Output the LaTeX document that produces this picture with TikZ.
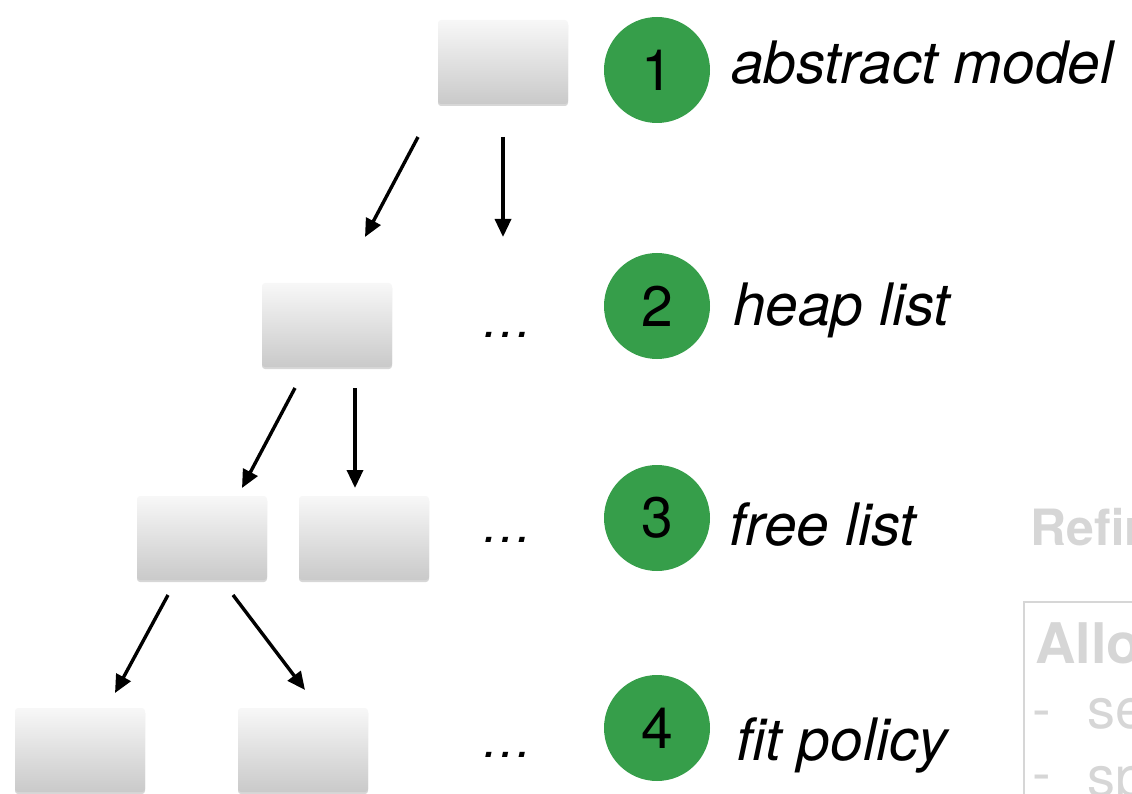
\documentclass[tikz,border=0pt]{standalone}
\usepackage{fontspec}
\setmainfont{TeX Gyre Heros}
\usetikzlibrary{arrows.meta,shadows}
\definecolor{stepgreen}{RGB}{54,158,74}
\definecolor{fadegray}{RGB}{214,214,214}
\tikzset{
  card/.style={rectangle, rounded corners=3pt, minimum width=130pt, minimum height=84pt,
    inner sep=0pt, top color=gray!6, bottom color=gray!42, draw=none,
    drop shadow={shadow xshift=0pt, shadow yshift=-2pt, opacity=.35, fill=black!45}},
  badge/.style={circle, fill=stepgreen, minimum size=106pt, inner sep=0pt,
    font=\fontsize{57}{60}\selectfont},
  tag/.style={anchor=base west, inner sep=0pt, font=\fontsize{58.5}{62}\selectfont\itshape},
  dots/.style={inner sep=0pt, font=\fontsize{50}{55}\selectfont\itshape},
  link/.style={line width=3.4pt, -{Triangle[length=18pt,width=16pt]}},
  ghost/.style={anchor=base west, inner sep=0pt, text=fadegray, font=\fontsize{#1}{#1}\selectfont},
}
\begin{document}
\begin{tikzpicture}[x=1pt,y=-1pt]
\useasboundingbox (0,0) rectangle (1132,794);
\clip (0,0) rectangle (1132,794);

% refinement tree
\node[card] (m1) at (503,62) {};
\node[card] (h1) at (327,325) {};
\node[card] (f1) at (202,538) {};
\node[card] (f2) at (364,538) {};
\node[card] (p1) at (80,750) {};
\node[card] (p2) at (303,750) {};

\coordinate (a1s) at (418,137); \coordinate (a1e) at (365,237);
\coordinate (a2s) at (503,137); \coordinate (a2e) at (503,237);
\coordinate (b1s) at (295,388); \coordinate (b1e) at (242,488);
\coordinate (b2s) at (355,388); \coordinate (b2e) at (355,488);
\coordinate (c1s) at (168,595); \coordinate (c1e) at (115,693);
\coordinate (c2s) at (233,595); \coordinate (c2e) at (305,690);
\draw[link] (a1s) -- (a1e);
\draw[link] (a2s) -- (a2e);
\draw[link] (b1s) -- (b1e);
\draw[link] (b2s) -- (b2e);
\draw[link] (c1s) -- (c1e);
\draw[link] (c2s) -- (c2e);

\node[dots] (d2) at (507,335) {\dots};
\node[dots] (d3) at (507,540) {\dots};
\node[dots] (d4) at (507,755) {\dots};

% numbered levels
\node[badge] (n1) at (657,70) {1};
\node[badge] (n2) at (657,306) {2};
\node[badge] (n3) at (657,518) {3};
\node[badge] (n4) at (657,728) {4};

\node[tag] (t1) at (731,84) {abstract model};
\node[tag] (t2) at (733,325) {heap list};
\node[tag] (t3) at (729,545) {free list};
\node[tag] (t4) at (736,760) {fit policy};

% side panel
\node[ghost=50, font=\fontsize{50}{50}\selectfont\bfseries] (r1) at (1030,545) {Refinement};
\draw[fadegray, line width=2pt] (1024,830) |- (1200,602);
\node[ghost=56, font=\fontsize{56}{56}\selectfont\bfseries] (r2) at (1035,663) {Allocator};
\node[ghost=56] (r3) at (1032,728) {-};
\node[ghost=56] (r4) at (1087,728) {search};
\node[ghost=56] (r5) at (1032,792) {-};
\node[ghost=56] (r6) at (1087,796) {split};
\end{tikzpicture}
\end{document}
